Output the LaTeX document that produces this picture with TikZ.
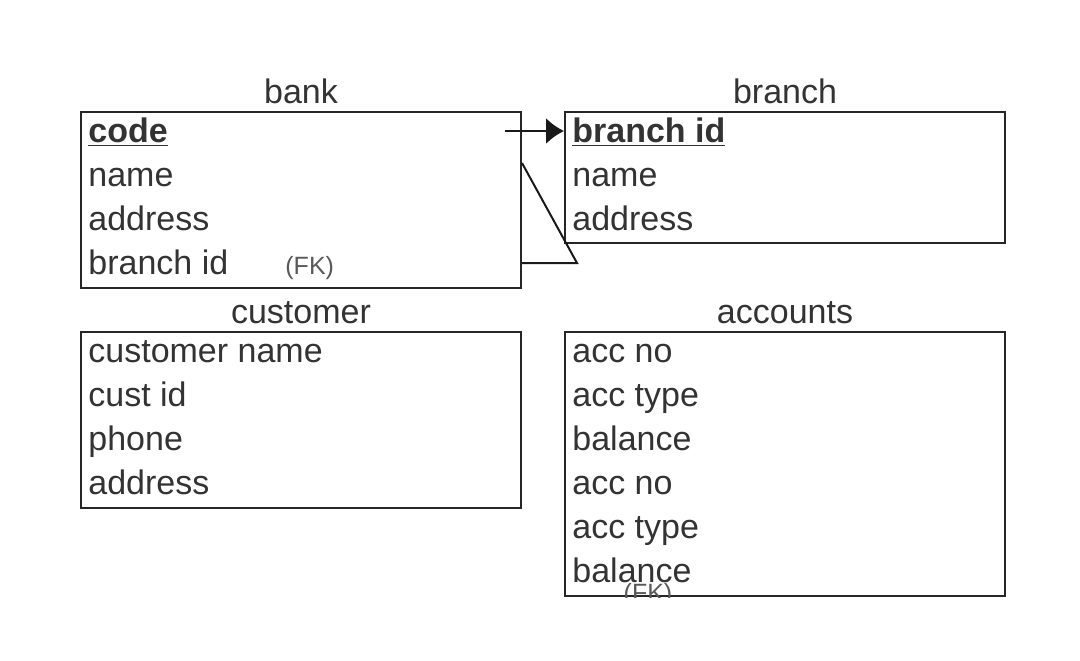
\documentclass[tikz,border=0pt]{standalone}
\usepackage{fontspec}
\setmainfont{Liberation Sans}
\usetikzlibrary{arrows.meta}
\tikzset{%
    table/.style={draw=black!85, line width=1pt, inner sep=0pt},
    title/.style={anchor=base, text=black!80, font=\fontsize{17}{20}\selectfont},
    field/.style={anchor=base west, text=black!80, inner sep=0pt, font=\fontsize{17}{20}\selectfont},
    fk/.style={anchor=base west, text=black!65, inner sep=0pt, font=\fontsize{12.5}{14}\selectfont},
    link/.style={line width=1pt, color=black!90},
}

\begin{document}
\begin{tikzpicture}[x=0.5pt, y=-0.5pt, >=Latex]

	\useasboundingbox (0,0) rectangle (1080,660);

	% tables
	\node[table, minimum width=220pt, minimum height=88pt] (bank) at (301,200) {};
	\node[table, minimum width=220pt, minimum height=65.5pt] (branch) at (785,177.5) {};
	\node[table, minimum width=220pt, minimum height=88pt] (customer) at (301,420) {};
	\node[table, minimum width=220pt, minimum height=132pt] (accounts) at (785,464) {};

	% titles
	\node[title] (banktitle) at (301,103) {bank};
	\node[title] (branchtitle) at (785,103) {branch};
	\node[title] (customertitle) at (301,323) {customer};
	\node[title] (accountstitle) at (785,323) {accounts};

	% bank fields
	\node[field] (bankcode) at (88,142) {\underline{\textbf{code}}};
	\node[field] (bankname) at (88,186) {name};
	\node[field] (bankaddr) at (88,230) {address};
	\node[field] (bankbid) at (88,274) {branch id};
	\node[fk] (bankfk) at (285,274) {(FK)};

	% branch fields
	\node[field] (branchbid) at (572,142) {\underline{\textbf{branch id}}};
	\node[field] (branchname) at (572,186) {name};
	\node[field] (branchaddr) at (572,230) {address};

	% customer fields
	\node[field] (custname) at (88,362) {customer name};
	\node[field] (custid) at (88,406) {cust id};
	\node[field] (custphone) at (88,450) {phone};
	\node[field] (custaddr) at (88,494) {address};

	% accounts fields
	\foreach \y/\t [count=\i] in {362/acc no, 406/acc type, 450/balance, 494/acc no, 538/acc type, 582/balance}
		\node[field] (acc\i) at (572,\y) {\t};
	\begin{scope}
		\clip (accounts.north west) rectangle (accounts.south east);
		\node[fk, anchor=base] (accfk) at (648,601) {(FK)};
	\end{scope}

	% links
	\coordinate (fkstart) at (505,131);
	\coordinate (bidrow) at (branch.west |- fkstart);
	\draw[link, -{Latex[length=9pt, width=13pt]}] (fkstart) -- (bidrow);

	\coordinate (ta) at (bank.east |- 0,163);
	\coordinate (tb) at (577,263);
	\coordinate (tc) at (bank.east |- tb);
	\draw[link] (ta) -- (tb) -- (tc);

\end{tikzpicture}
\end{document}
